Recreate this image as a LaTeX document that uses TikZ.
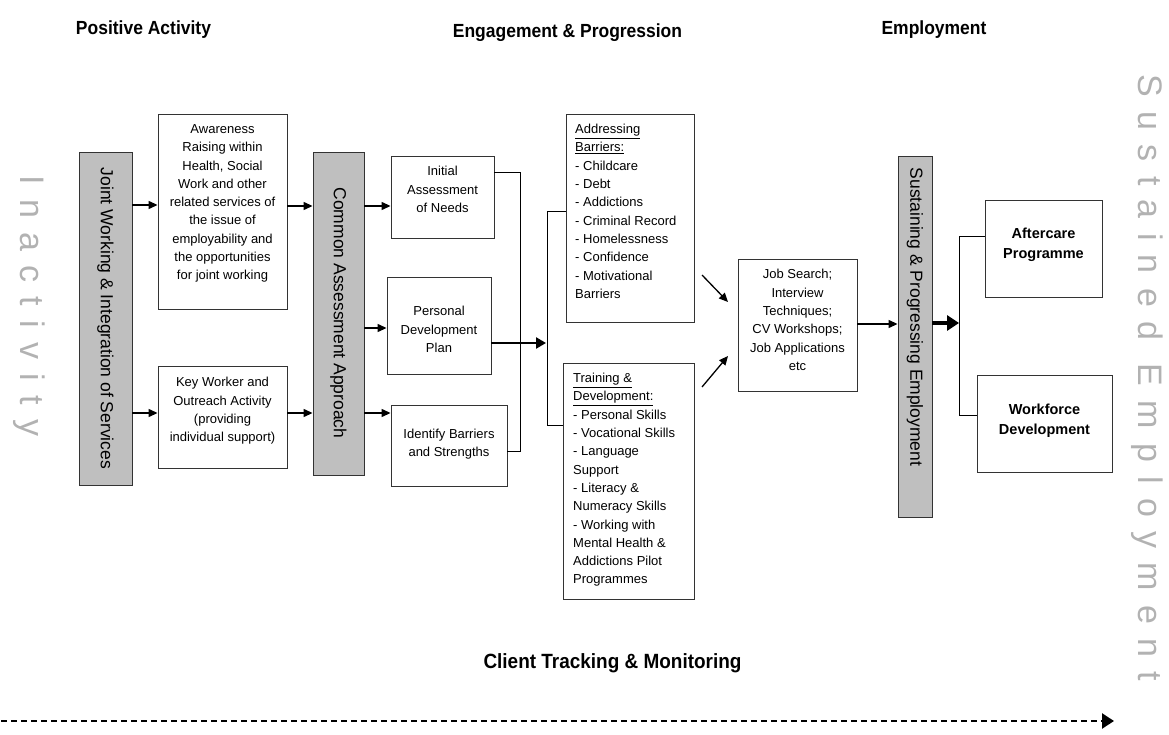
\documentclass[tikz,border=0pt]{standalone}
\usepackage{fontspec}
\setmainfont{Liberation Sans}
\newfontfamily\decofont{Liberation Sans}[LetterSpace=42]
\newfontfamily\titlefont{Liberation Sans}[FakeStretch=0.92]
\usetikzlibrary{arrows.meta,calc}
\begin{document}
\begin{tikzpicture}[x=1pt,y=-1pt,
  box/.style={draw=black!80, line width=0.9pt, fill=white, inner sep=0pt},
  bar/.style={draw=black!80, line width=0.9pt, fill=black!25, inner sep=0pt},
  txt/.style={align=center, inner sep=0pt, font=\fontsize{13}{18.3}\selectfont},
  ltxt/.style={align=left, inner sep=0pt, anchor=north west, font=\fontsize{13}{18.3}\selectfont},
  btxt/.style={align=center, inner sep=0pt, font=\bfseries\fontsize{14.5}{20.5}\selectfont},
  bartxt/.style={rotate=-90, inner sep=0pt, font=\fontsize{17.5}{20}\selectfont},
  title/.style={inner sep=0pt, font=\titlefont\bfseries\fontsize{19}{22}\selectfont},
  deco/.style={rotate=-90, inner sep=0pt, text=black!30, font=\decofont\fontsize{34}{36}\selectfont},
  arr/.style={line width=1.3pt, -{Triangle[length=9pt,width=8pt]}},
  thk/.style={line width=2.4pt, -{Triangle[length=10pt,width=11pt]}},
  thkk/.style={line width=4pt, -{Triangle[length=12pt,width=15pt]}},
  lnk/.style={line width=1pt},
]
\useasboundingbox (0,0) rectangle (1169,735);

% titles
\node[title] (t1) at (143.5,30) {Positive Activity};
\node[title] (t2) at (567.5,33) {Engagement \& Progression};
\node[title] (t3) at (934,30) {Employment};
\node[title, font=\titlefont\bfseries\fontsize{20.6}{22}\selectfont] (t4) at (612.5,663) {Client Tracking \& Monitoring};

% decorative side texts
\node[deco] (inact) at (29,306) {Inactivity};
\node[deco] (sust) at (1147,378) {Sustained Employment};

% bars
\node[bar, minimum width=53pt, minimum height=333pt] (bar1) at (105.5,318.5) {};
\node[bartxt] (bar1t) at (105.5,318.5) {Joint Working \& Integration of Services};
\node[bar, minimum width=51pt, minimum height=323pt] (bar2) at (338.5,313.5) {};
\node[bartxt] (bar2t) at (338.5,313) {Common Assessment Approach};
\node[bar, minimum width=34pt, minimum height=361pt] (bar3) at (915,336.5) {};
\node[bartxt] (bar3t) at (915,317) {Sustaining \& Progressing Employment};

% boxes
\node[box, minimum width=129pt, minimum height=195pt] (aw) at (222.5,211.5) {};
\node[txt] (awt) at (222.5,203.5) {Awareness\\Raising within\\Health, Social\\Work and other\\related services of\\the issue of\\employability and\\the opportunities\\for joint working};
\node[box, minimum width=129pt, minimum height=102pt] (kw) at (222.5,417) {};
\node[txt] (kwt) at (222.5,411) {Key Worker and\\Outreach Activity\\(providing\\individual support)};

\node[box, minimum width=103pt, minimum height=82pt] (in) at (442.5,197) {};
\node[txt] (int) at (442.5,189.5) {Initial\\Assessment\\of Needs};
\node[box, minimum width=104pt, minimum height=97pt] (pdp) at (439,325.5) {};
\node[txt] (pdpt) at (439,329.5) {Personal\\Development\\Plan};
\node[box, minimum width=116pt, minimum height=81pt] (id) at (449,445.5) {};
\node[txt] (idt) at (449,444) {Identify Barriers\\and Strengths};

\node[box, minimum width=128pt, minimum height=208pt] (ab) at (630,218) {};
\node[ltxt] (abt) at (575,124) {\underline{Addressing}\\\underline{Barriers:}\\- Childcare\\- Debt\\- Addictions\\- Criminal Record\\- Homelessness\\- Confidence\\- Motivational\\Barriers};
\node[box, minimum width=131pt, minimum height=236pt] (tr) at (628.5,481) {};
\node[ltxt] (trt) at (573,373) {\underline{Training \&}\\\underline{Development:}\\- Personal Skills\\- Vocational Skills\\- Language\\Support\\- Literacy \&\\Numeracy Skills\\- Working with\\Mental Health \&\\Addictions Pilot\\Programmes};

\node[box, minimum width=119pt, minimum height=132pt] (js) at (797.5,325) {};
\node[txt] (jst) at (797.5,320) {Job Search;\\Interview\\Techniques;\\CV Workshops;\\Job Applications\\etc};

\node[box, minimum width=117pt, minimum height=97pt] (af) at (1043.5,248.5) {};
\node[btxt] (aft) at (1043.5,245) {Aftercare\\Programme};
\node[box, minimum width=135pt, minimum height=97pt] (wf) at (1044.5,423.5) {};
\node[btxt] (wft) at (1044.5,420.5) {Workforce\\Development};

% connectors
\draw[arr] (bar1.east |- 0,205) -- (aw.west |- 0,205);
\draw[arr] (bar1.east |- 0,413) -- (kw.west |- 0,413);
\draw[arr] (aw.east |- 0,206) -- (bar2.west |- 0,206);
\draw[arr] (kw.east |- 0,413) -- (bar2.west |- 0,413);
\draw[arr] (bar2.east |- 0,206) -- (in.west |- 0,206);
\draw[arr] (bar2.east |- 0,328) -- (pdp.west |- 0,328);
\draw[arr] (bar2.east |- 0,413) -- (id.west |- 0,413);

\draw[lnk] (in.east |- 0,173) -- (520,173) |- (id.east |- 0,451);
\coordinate (br2) at (546,343);
\draw[lnk] (ab.west |- 0,212) -- (547,212) |- (tr.west |- 0,425);
\draw[thk] (pdp.east |- 0,343) -- (br2);

\coordinate (d1s) at (702,275);
\coordinate (d1e) at (728,302);
\coordinate (d2s) at (702,387);
\coordinate (d2e) at (728,356);
\draw[arr] (d1s) -- (d1e);
\draw[arr] (d2s) -- (d2e);

\draw[arr] (js.east |- 0,324) -- (bar3.west |- 0,324);
\coordinate (br3) at (959,323);
\draw[thkk] (bar3.east |- 0,323) -- (br3);
\draw[lnk] (af.west |- 0,237) -- (959,237) |- (wf.west |- 0,415);

% tracking arrow
\coordinate (ds) at (1,721);
\coordinate (de) at (1114,721);
\draw[line width=2.4pt, dash pattern=on 6pt off 4pt, -{Triangle[length=12pt,width=15pt]}] (ds) -- (de);
\end{tikzpicture}
\end{document}
